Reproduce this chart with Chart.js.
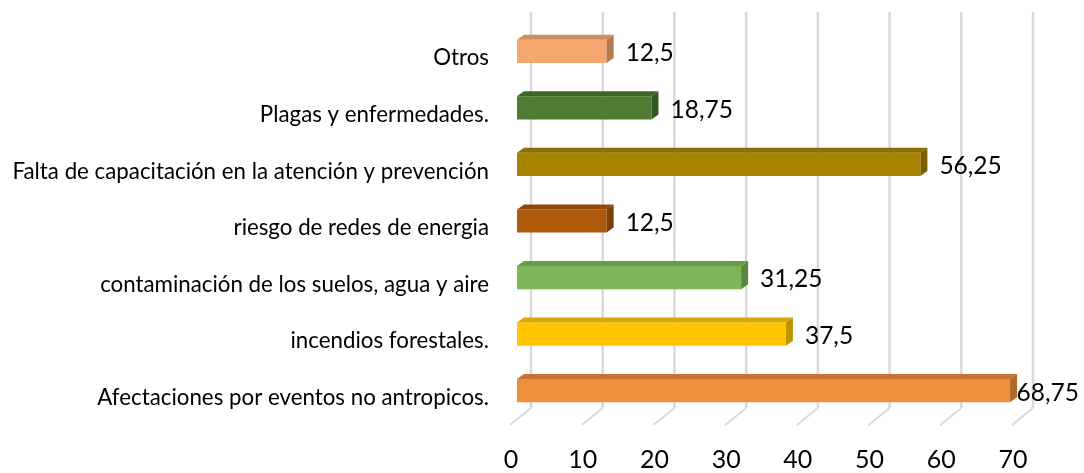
<!DOCTYPE html>
<html lang="es">
<head>
<meta charset="utf-8">
<title>Riesgos</title>
<script src="https://cdn.jsdelivr.net/npm/chart.js@4/dist/chart.umd.min.js"></script>
<style>
  html, body { margin: 0; padding: 0; background: #fff; }
  #wrap { width: 1084px; height: 473px; position: relative; }
</style>
</head>
<body>
<div id="wrap"><canvas id="chart"></canvas></div>
<script>
'use strict';

// ─────────────────────────────────────────────
// DATA
// ─────────────────────────────────────────────

const categories = [
  'Otros',
  'Plagas y enfermedades.',
  'Falta de capacitación en la atención y prevención',
  'riesgo de redes de energia',
  'contaminación de los suelos, agua y aire',
  'incendios forestales.',
  'Afectaciones por eventos no antropicos.',
];
const values     = [12.5, 18.75, 56.25, 12.5, 31.25, 37.5, 68.75];
const xTicks     = [0, 10, 20, 30, 40, 50, 60, 70];

// front / top / side shades per bar
const frontColors = ['#F4A86E', '#4F7B33', '#A88500', '#AF590B', '#7EB55A', '#FFC600', '#EE903E'];
const topColors   = ['#D08F5E', '#3F6428', '#8C6E00', '#8E4808', '#6A9B4A', '#D9A800', '#C87333'];
const sideColors  = ['#B47A4F', '#36561F', '#7A6000', '#7C3F06', '#5C873F', '#BF9400', '#B5682C'];

const FONT   = 'Lato, "Open Sans", sans-serif';
const BAR_DX = 7;   // bar depth
const BAR_DY = 5;
const WALL_DX = 14; // back wall offset
const WALL_DY = 11;

// ─────────────────────────────────────────────
// 3D PLUGIN
// ─────────────────────────────────────────────

const depth3d = {
  id: 'depth3d',
  beforeDatasetsDraw(chart) {
    const { ctx, chartArea, scales: { x } } = chart;
    ctx.save();
    ctx.strokeStyle = '#D9D9D9';
    xTicks.forEach(v => {
      const px = x.getPixelForValue(v);
      ctx.lineWidth = 2.5;
      ctx.beginPath();
      ctx.moveTo(px + WALL_DX, chartArea.top - WALL_DY);
      ctx.lineTo(px + WALL_DX, chartArea.bottom - WALL_DY);
      ctx.stroke();
      ctx.lineWidth = 2;
      ctx.beginPath();
      ctx.moveTo(px + WALL_DX, chartArea.bottom - WALL_DY);
      ctx.lineTo(px - 7, chartArea.bottom + 6);
      ctx.stroke();
    });
    ctx.restore();
  },
  afterDatasetsDraw(chart) {
    const { ctx } = chart;
    const bars = chart.getDatasetMeta(0).data;
    ctx.save();
    bars.forEach((bar, i) => {
      const { x, y, base, height } = bar.getProps(['x', 'y', 'base', 'height'], true);
      const top = y - height / 2;
      const bot = y + height / 2;

      // top face
      ctx.fillStyle = topColors[i];
      ctx.beginPath();
      ctx.moveTo(base, top);
      ctx.lineTo(x, top);
      ctx.lineTo(x + BAR_DX, top - BAR_DY);
      ctx.lineTo(base + BAR_DX, top - BAR_DY);
      ctx.closePath();
      ctx.fill();

      // side face
      ctx.fillStyle = sideColors[i];
      ctx.beginPath();
      ctx.moveTo(x, top);
      ctx.lineTo(x + BAR_DX, top - BAR_DY);
      ctx.lineTo(x + BAR_DX, bot - BAR_DY);
      ctx.lineTo(x, bot);
      ctx.closePath();
      ctx.fill();

      // value label
      const txt = String(values[i]).replace('.', ',');
      ctx.font = '24.5px ' + FONT;
      ctx.fillStyle = '#000';
      ctx.textBaseline = 'middle';
      ctx.textAlign = 'left';
      const w = ctx.measureText(txt).width;
      const lx = Math.min(x + BAR_DX + 12, chart.width - w - 5);
      ctx.fillText(txt, lx, y + 2);
    });
    ctx.restore();
  },
};

// ─────────────────────────────────────────────
// CHART
// ─────────────────────────────────────────────

new Chart(document.getElementById('chart'), {
  type: 'bar',
  data: {
    labels: categories,
    datasets: [{
      data: values,
      backgroundColor: frontColors,
      borderWidth: 0,
      categoryPercentage: 0.41,
      barPercentage: 1,
    }],
  },
  options: {
    indexAxis: 'y',
    responsive: true,
    maintainAspectRatio: false,
    animation: false,
    layout: { padding: { top: 23, right: 65, bottom: 0, left: 0 } },
    plugins: {
      legend: { display: false },
      tooltip: { enabled: false },
    },
    scales: {
      x: {
        min: 0,
        max: 70,
        afterBuildTicks: s => { s.ticks = xTicks.map(v => ({ value: v })); },
        afterFit: s => { s.height = 54; },
        grid: { display: false, drawTicks: false },
        border: { display: false },
        ticks: { font: { family: FONT, size: 25 }, color: '#000', padding: 26, labelOffset: -6 },
      },
      y: {
        afterFit: s => { s.width = 517; s.paddingTop = 0; s.paddingBottom = 0; },
        grid: { display: false, drawTicks: false },
        border: { display: false },
        ticks: { font: { family: FONT, size: 22.3 }, color: '#000', padding: 28, labelOffset: 7 },
      },
    },
  },
  plugins: [depth3d],
});
</script>
</body>
</html>
